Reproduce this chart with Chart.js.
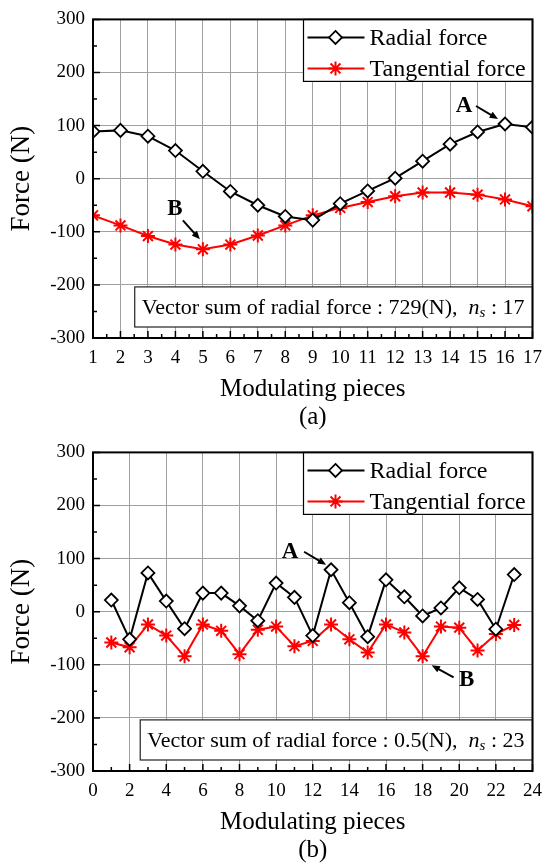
<!DOCTYPE html>
<html>
<head>
<meta charset="utf-8">
<script src="https://cdn.jsdelivr.net/npm/chart.js@4/dist/chart.umd.min.js"></script>
<style>
  body { margin: 0; background: #fff; }
  canvas { display: block; }
</style>
</head>
<body>
<canvas id="chartA" width="551" height="433"></canvas>
<canvas id="chartB" width="551" height="433"></canvas>
<script>
// (a) n_s = 17
const piecesA = [1, 2, 3, 4, 5, 6, 7, 8, 9, 10, 11, 12, 13, 14, 15, 16, 17];
const radialA = [89, 91, 80, 53, 14, -24, -50, -71, -78, -47, -23, 1, 33, 65, 88, 103, 97];
const tangentialA = [-69, -88, -108, -124, -133, -124, -107, -88, -69, -55, -44, -33, -26, -26, -30, -39, -52];
const xTicksA = [1, 2, 3, 4, 5, 6, 7, 8, 9, 10, 11, 12, 13, 14, 15, 16, 17];

// (b) n_s = 23
const piecesB = [1, 2, 3, 4, 5, 6, 7, 8, 9, 10, 11, 12, 13, 14, 15, 16, 17, 18, 19, 20, 21, 22, 23];
const radialB = [22, -52, 73, 20, -32, 35, 35, 11, -17, 54, 27, -45, 79, 17, -47, 60, 28, -8, 7, 45, 23, -33, 70];
const tangentialB = [-58, -67, -24, -45, -84, -24, -36, -80, -34, -28, -65, -55, -24, -52, -77, -24, -39, -84, -28, -30, -73, -42, -25];
const xTicksB = [0, 2, 4, 6, 8, 10, 12, 14, 16, 18, 20, 22, 24];

const yTicks = [-300, -200, -100, 0, 100, 200, 300];
const seriesNames = ['Radial force', 'Tangential force'];

const SERIF = '"Liberation Serif", "Times New Roman", serif';
const GRID = '#a0a0a0';

// 凡例・枠・目盛り・注記の描画
function drawMarker(ctx, style, x, y, r, stroke, lw) {
    ctx.save();
    ctx.lineWidth = lw;
    ctx.strokeStyle = stroke;
    ctx.fillStyle = '#fff';
    ctx.beginPath();
    if (style === 'rectRot') {
        ctx.moveTo(x, y - r);
        ctx.lineTo(x + r, y);
        ctx.lineTo(x, y + r);
        ctx.lineTo(x - r, y);
        ctx.closePath();
        ctx.fill();
        ctx.stroke();
    } else {
        for (let i = 0; i < 4; i++) {
            const a = i * Math.PI / 4;
            ctx.moveTo(x - r * Math.cos(a), y - r * Math.sin(a));
            ctx.lineTo(x + r * Math.cos(a), y + r * Math.sin(a));
        }
        ctx.stroke();
    }
    ctx.restore();
}

function drawArrow(ctx, x1, y1, x2, y2) {
    const ang = Math.atan2(y2 - y1, x2 - x1);
    const head = 9;
    ctx.save();
    ctx.strokeStyle = '#000';
    ctx.fillStyle = '#000';
    ctx.lineWidth = 2;
    ctx.beginPath();
    ctx.moveTo(x1, y1);
    ctx.lineTo(x2 - head * 0.7 * Math.cos(ang), y2 - head * 0.7 * Math.sin(ang));
    ctx.stroke();
    ctx.beginPath();
    ctx.moveTo(x2, y2);
    ctx.lineTo(x2 - head * Math.cos(ang - 0.4), y2 - head * Math.sin(ang - 0.4));
    ctx.lineTo(x2 - head * Math.cos(ang + 0.4), y2 - head * Math.sin(ang + 0.4));
    ctx.closePath();
    ctx.fill();
    ctx.restore();
}

const decorPlugin = {
    id: 'decor',
    afterDatasetsDraw(chart, args, opts) {
        const ctx = chart.ctx;
        const area = chart.chartArea;
        const xs = chart.scales.x;
        const ys = chart.scales.y;

        // 内向きの目盛り
        ctx.save();
        ctx.strokeStyle = '#000';
        ctx.lineWidth = 1.5;
        ctx.beginPath();
        const xt = xs.ticks.map(t => t.value);
        xt.forEach((v, i) => {
            const px = xs.getPixelForValue(v);
            ctx.moveTo(px, area.bottom);
            ctx.lineTo(px, area.bottom - 7);
            if (i < xt.length - 1) {
                const pm = xs.getPixelForValue((v + xt[i + 1]) / 2);
                ctx.moveTo(pm, area.bottom);
                ctx.lineTo(pm, area.bottom - 4);
            }
        });
        const yt = ys.ticks.map(t => t.value);
        yt.forEach((v, i) => {
            const py = ys.getPixelForValue(v);
            ctx.moveTo(area.left, py);
            ctx.lineTo(area.left + 7, py);
            if (i < yt.length - 1) {
                const pm = ys.getPixelForValue((v + yt[i + 1]) / 2);
                ctx.moveTo(area.left, pm);
                ctx.lineTo(area.left + 4, pm);
            }
        });
        ctx.stroke();
        ctx.restore();

        // 矢印と文字 A, B
        opts.marks.forEach(m => {
            const px = xs.getPixelForValue(m.x);
            const py = ys.getPixelForValue(m.y);
            drawArrow(ctx, px + m.tail[0], py + m.tail[1], px + m.tip[0], py + m.tip[1]);
            ctx.save();
            ctx.font = 'bold 23px ' + SERIF;
            ctx.fillStyle = '#000';
            ctx.textAlign = 'center';
            ctx.textBaseline = 'middle';
            ctx.fillText(m.label, px + m.text[0], py + m.text[1]);
            ctx.restore();
        });

        // 凡例
        const lw = 229, lh = 62;
        const lx = area.right - lw, ly = area.top;
        ctx.save();
        ctx.fillStyle = '#fff';
        ctx.fillRect(lx, ly, lw, lh);
        ctx.strokeStyle = '#000';
        ctx.lineWidth = 1.2;
        ctx.strokeRect(lx, ly, lw, lh);
        chart.data.datasets.forEach((ds, i) => {
            const ry = ly + 18 + i * 31;
            ctx.strokeStyle = ds.borderColor;
            ctx.lineWidth = ds.borderWidth;
            ctx.beginPath();
            ctx.moveTo(lx + 4, ry);
            ctx.lineTo(lx + 61, ry);
            ctx.stroke();
            drawMarker(ctx, ds.pointStyle, lx + 32, ry, ds.pointRadius, ds.borderColor, ds.pointBorderWidth);
            ctx.fillStyle = '#000';
            ctx.font = '24px ' + SERIF;
            ctx.textBaseline = 'middle';
            ctx.textAlign = 'left';
            ctx.fillText(ds.label, lx + 66, ry + 1);
        });
        ctx.restore();

        // 合力の注記
        ctx.save();
        const fN = '22px ' + SERIF;
        const fI = 'italic 22px ' + SERIF;
        const fS = 'italic 15px ' + SERIF;
        const p1 = opts.sumText + ',  ';
        const p3 = ' : ' + opts.ns;
        ctx.font = fN; const w1 = ctx.measureText(p1).width; const w3 = ctx.measureText(p3).width;
        ctx.font = fI; const w2 = ctx.measureText('n').width;
        ctx.font = fS; const ws = ctx.measureText('s').width;
        const tw = w1 + w2 + ws + w3;
        const bTop = ys.getPixelForValue(-200) + 2;
        const bBot = area.bottom - 11;
        const bLeft = area.right - tw - 15;
        ctx.fillStyle = '#fff';
        ctx.fillRect(bLeft, bTop, area.right - bLeft, bBot - bTop);
        ctx.strokeStyle = '#222';
        ctx.lineWidth = 1.2;
        ctx.strokeRect(bLeft, bTop, area.right - bLeft, bBot - bTop);
        const ty = (bTop + bBot) / 2 + 1;
        let tx = bLeft + 7;
        ctx.fillStyle = '#000';
        ctx.textBaseline = 'middle';
        ctx.textAlign = 'left';
        ctx.font = fN; ctx.fillText(p1, tx, ty); tx += w1;
        ctx.font = fI; ctx.fillText('n', tx, ty); tx += w2;
        ctx.font = fS; ctx.fillText('s', tx, ty + 5); tx += ws;
        ctx.font = fN; ctx.fillText(p3, tx, ty);
        ctx.restore();

        // 外枠
        ctx.save();
        ctx.strokeStyle = '#000';
        ctx.lineWidth = 2;
        ctx.strokeRect(area.left, area.top, area.right - area.left, area.bottom - area.top);
        ctx.restore();
    }
};

function makeChart(id, pieces, radial, tangential, xTicks, caption, topPad, sumText, ns, marks) {
    const ctx = document.getElementById(id).getContext('2d');
    return new Chart(ctx, {
        type: 'line',
        data: {
            datasets: [
                {
                    label: seriesNames[0],
                    data: pieces.map((p, i) => ({x: p, y: radial[i]})),
                    borderColor: '#000',
                    borderWidth: 2,
                    pointStyle: 'rectRot',
                    pointRadius: 6.5,
                    pointBorderWidth: 1.8,
                    pointBackgroundColor: '#fff',
                    pointBorderColor: '#000',
                    clip: 0
                },
                {
                    label: seriesNames[1],
                    data: pieces.map((p, i) => ({x: p, y: tangential[i]})),
                    borderColor: '#ff0000',
                    borderWidth: 2,
                    pointStyle: 'star',
                    pointRadius: 7,
                    pointBorderWidth: 2,
                    pointBackgroundColor: '#ff0000',
                    pointBorderColor: '#ff0000',
                    clip: 0
                }
            ]
        },
        options: {
            responsive: false,
            animation: false,
            layout: {padding: {left: 0, right: 17, top: topPad, bottom: 0}},
            plugins: {
                legend: {display: false},
                tooltip: {enabled: false},
                decor: {sumText: sumText, ns: ns, marks: marks}
            },
            scales: {
                x: {
                    type: 'linear',
                    min: xTicks[0],
                    max: xTicks[xTicks.length - 1],
                    afterBuildTicks: s => { s.ticks = xTicks.map(v => ({value: v})); },
                    afterFit: s => { s.height = 95; },
                    grid: {color: GRID, lineWidth: 1, drawTicks: false},
                    border: {display: false},
                    ticks: {
                        autoSkip: false,
                        maxRotation: 0,
                        padding: 9,
                        color: '#000',
                        font: {family: SERIF, size: 19}
                    },
                    title: {
                        display: true,
                        text: ['Modulating pieces', caption],
                        color: '#000',
                        font: {family: SERIF, size: 25, lineHeight: 1.12},
                        padding: {top: 0, bottom: 2}
                    }
                },
                y: {
                    min: -300,
                    max: 300,
                    afterBuildTicks: s => { s.ticks = yTicks.map(v => ({value: v})); },
                    afterFit: s => { s.width = 93; },
                    grid: {color: GRID, lineWidth: 1, drawTicks: false},
                    border: {display: false},
                    ticks: {
                        padding: 8,
                        color: '#000',
                        font: {family: SERIF, size: 19}
                    },
                    title: {
                        display: true,
                        text: 'Force (N)',
                        color: '#000',
                        font: {family: SERIF, size: 27, lineHeight: 1},
                        padding: {top: 8, bottom: 0}
                    }
                }
            }
        },
        plugins: [decorPlugin]
    });
}

makeChart('chartA', piecesA, radialA, tangentialA, xTicksA, '(a)', 16,
    'Vector sum of radial force : 729(N)', 17,
    [
        {label: 'A', x: piecesA[15], y: radialA[15], text: [-41, -18], tail: [-29, -18], tip: [-7, -5]},
        {label: 'B', x: piecesA[4], y: tangentialA[4], text: [-28, -40], tail: [-20, -29], tip: [-3, -10]}
    ]);

makeChart('chartB', piecesB, radialB, tangentialB, xTicksB, '(b)', 14,
    'Vector sum of radial force : 0.5(N)', 23,
    [
        {label: 'A', x: piecesB[12], y: radialB[12], text: [-41, -18], tail: [-27, -18], tip: [-5, -5]},
        {label: 'B', x: piecesB[17], y: tangentialB[17], text: [44, 24], tail: [31, 21], tip: [9, 9]}
    ]);
</script>
</body>
</html>
